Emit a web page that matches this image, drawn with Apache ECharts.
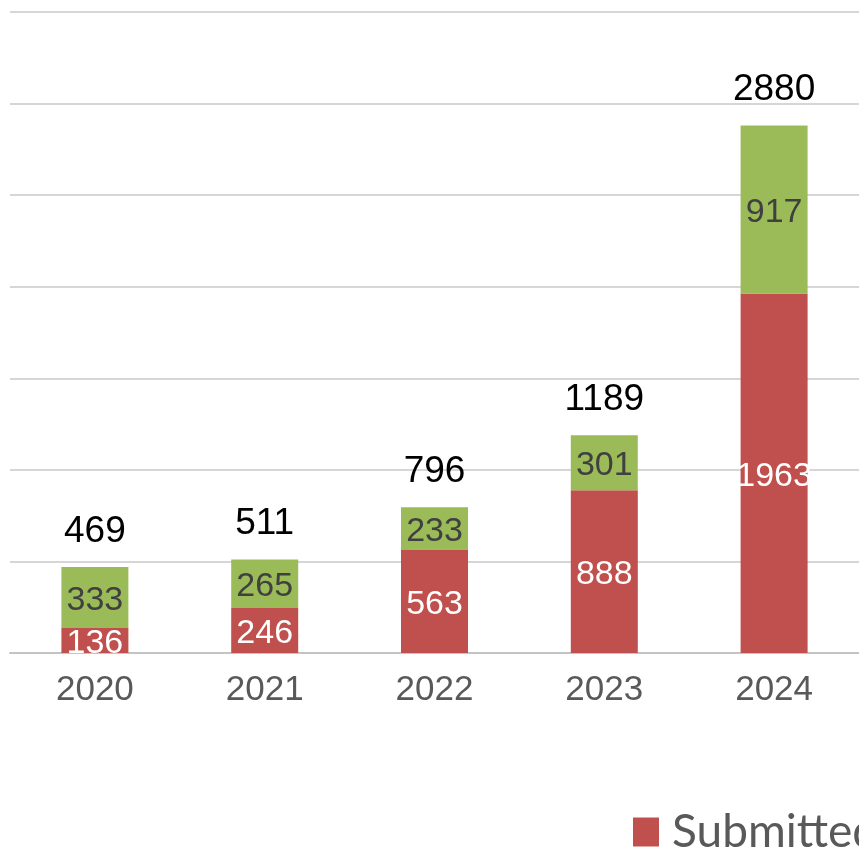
<!DOCTYPE html>
<html>
<head>
<meta charset="utf-8">
<script src="https://cdn.jsdelivr.net/npm/echarts@6/dist/echarts.min.js"></script>
<style>
html,body{margin:0;padding:0;background:#fff;}
#chart{width:859px;height:850px;}
</style>
</head>
<body>
<div id="chart"></div>
<script>
const categories = ['2020', '2021', '2022', '2023', '2024'];
const submitted = [136, 246, 563, 888, 1963];
const other = [333, 265, 233, 301, 917];
const totals = [469, 511, 796, 1189, 2880];

const chart = echarts.init(document.getElementById('chart'));
chart.setOption({
  animation: false,
  backgroundColor: '#ffffff',
  grid: { left: 10, top: 12, width: 850, bottom: 197, containLabel: false },
  legend: {
    data: [{ name: 'Submitted' }],
    left: 628, top: 804,
    itemWidth: 26, itemHeight: 29, itemGap: 10,
    icon: 'rect',
    textStyle: { fontFamily: 'Lato', fontSize: 46, color: '#595959', padding: [2, 0, 0, 8] }
  },
  xAxis: {
    type: 'category',
    data: categories,
    axisLine: { show: true, lineStyle: { color: '#c4c4c4', width: 2 } },
    axisTick: { show: false },
    axisLabel: { fontFamily: 'Liberation Sans', fontSize: 35, color: '#595959', margin: 20 }
  },
  yAxis: {
    type: 'value',
    min: 0, max: 3500, interval: 500,
    axisLabel: { show: false },
    axisLine: { show: false },
    axisTick: { show: false },
    splitLine: { lineStyle: { color: '#c8c8c8', width: 1.5 } }
  },
  series: [
    {
      name: 'Submitted', type: 'bar', stack: 'a', barWidth: 67,
      data: submitted,
      itemStyle: { color: '#C0504D' },
      label: { show: true, position: 'inside', fontFamily: 'Liberation Sans', fontSize: 34, color: '#ffffff', offset: [0, 3] }
    },
    {
      name: 'Other', type: 'bar', stack: 'a', barWidth: 67,
      data: other,
      itemStyle: { color: '#9BBB59' },
      label: { show: true, position: 'inside', fontFamily: 'Liberation Sans', fontSize: 34, color: '#404040', offset: [0, 3] }
    },
    {
      name: 'Total', type: 'bar', stack: 'a', barWidth: 67,
      data: totals.map(() => 0),
      itemStyle: { color: 'transparent' },
      label: {
        show: true, position: 'top', distance: 17,
        fontFamily: 'Liberation Sans', fontSize: 37, color: '#000000',
        formatter: p => String(totals[p.dataIndex])
      }
    }
  ]
});
</script>
</body>
</html>
